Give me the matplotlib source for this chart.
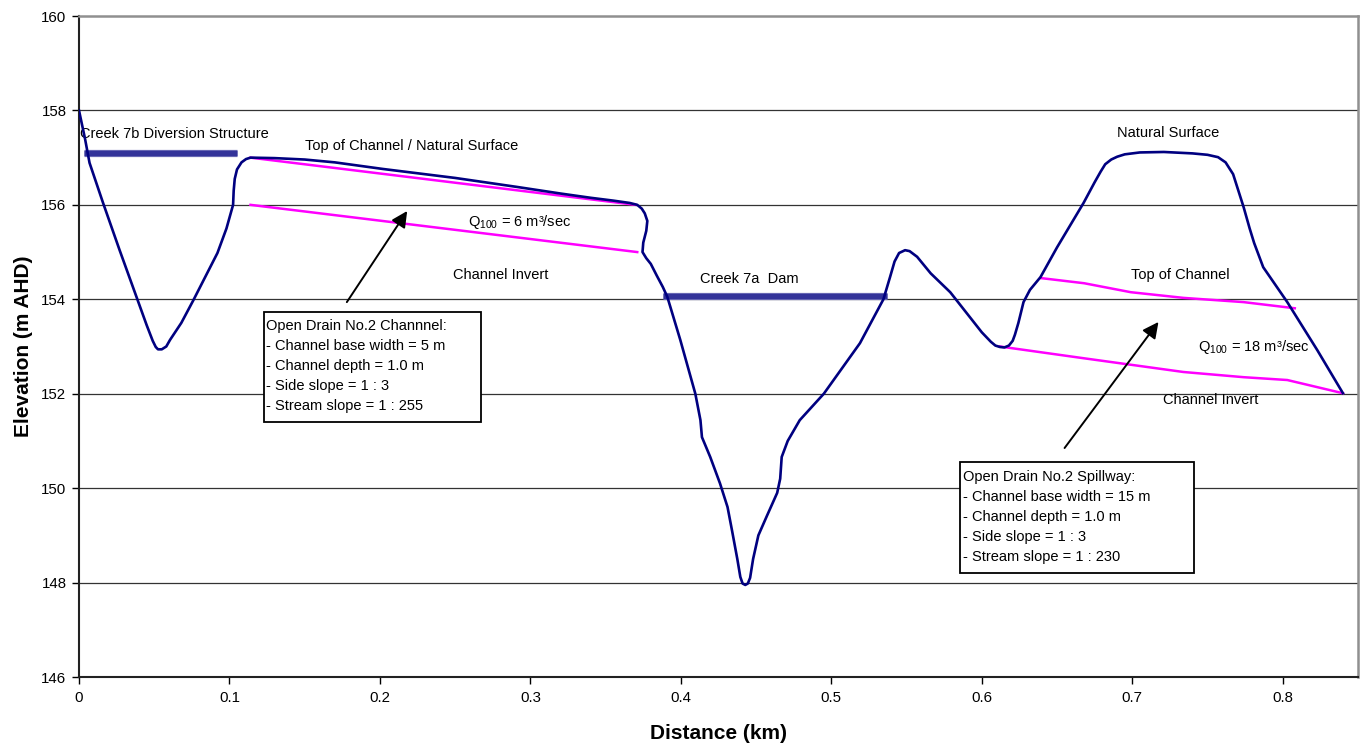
import matplotlib
matplotlib.use("Agg")
import matplotlib.pyplot as plt
from matplotlib.patches import Rectangle

plt.rcParams['font.family'] = ['Liberation Sans', 'DejaVu Sans']
plt.rcParams['mathtext.fontset'] = 'custom'
plt.rcParams['mathtext.rm'] = 'Liberation Sans'
plt.rcParams['mathtext.it'] = 'Liberation Sans'

# ---- data ----
surface_x = [0.000, 0.004, 0.007, 0.016, 0.027, 0.039, 0.045, 0.049, 0.051, 0.0525, 0.055, 0.058,
             0.0605, 0.068, 0.076, 0.092, 0.098, 0.1024, 0.1028, 0.1035, 0.105, 0.108, 0.111,
             0.114, 0.130, 0.150, 0.170, 0.202, 0.250, 0.291, 0.320, 0.340, 0.355, 0.366,
             0.371, 0.374, 0.376, 0.3777, 0.377, 0.375, 0.3745, 0.377, 0.380, 0.384, 0.388,
             0.391, 0.3996, 0.4096, 0.413, 0.414, 0.4195, 0.426, 0.431, 0.434, 0.4375, 0.4395,
             0.441, 0.4428, 0.4445, 0.446, 0.448, 0.4515, 0.457, 0.464, 0.466, 0.467, 0.471,
             0.479, 0.495, 0.519, 0.5346, 0.539, 0.542, 0.545, 0.549, 0.552, 0.557, 0.566,
             0.579, 0.600, 0.606, 0.609, 0.612, 0.615, 0.618, 0.6205, 0.622, 0.6243, 0.6277,
             0.632, 0.639, 0.650, 0.6676, 0.675, 0.6789, 0.682, 0.686, 0.690, 0.695, 0.705,
             0.721, 0.740, 0.750, 0.757, 0.762, 0.767, 0.774, 0.778, 0.781, 0.787, 0.803,
             0.823, 0.840]
surface_y = [158.0, 157.4, 156.89, 156.04, 155.04, 153.98, 153.45, 153.12, 152.99, 152.94,
             152.94, 153.0, 153.14, 153.5, 153.98, 154.98, 155.5, 156.0, 156.3, 156.55, 156.75,
             156.9, 156.97, 157.0, 156.99, 156.96, 156.9, 156.76, 156.57, 156.38, 156.24,
             156.15, 156.09, 156.04, 156.0, 155.92, 155.82, 155.66, 155.45, 155.2, 155.0,
             154.87, 154.75, 154.5, 154.26, 154.05, 153.14, 152.0, 151.44, 151.08, 150.66,
             150.1, 149.6, 149.1, 148.5, 148.12, 147.98, 147.95, 147.98, 148.1, 148.5, 149.0,
             149.4, 149.9, 150.2, 150.66, 151.0, 151.44, 152.0, 153.07, 154.0, 154.47, 154.8,
             154.98, 155.04, 155.02, 154.9, 154.55, 154.15, 153.3, 153.1, 153.02, 152.99, 152.98,
             153.02, 153.12, 153.25, 153.5, 153.94, 154.2, 154.47, 155.1, 156.04, 156.48,
             156.7, 156.86, 156.96, 157.02, 157.07, 157.11, 157.12, 157.09, 157.06, 157.01,
             156.9, 156.65, 155.95, 155.5, 155.19, 154.68, 153.94, 152.92, 152.01]

ch1_top_x = [0.114, 0.370]
ch1_top_y = [157.0, 156.0]
ch1_inv_x = [0.114, 0.371]
ch1_inv_y = [156.0, 155.0]

ch2_top_x = [0.639, 0.668, 0.699, 0.734, 0.774, 0.808]
ch2_top_y = [154.45, 154.34, 154.15, 154.03, 153.94, 153.81]
ch2_inv_x = [0.612, 0.668, 0.734, 0.774, 0.803, 0.840]
ch2_inv_y = [153.0, 152.75, 152.46, 152.35, 152.29, 152.01]

struct7b_x = [0.0033, 0.105]
struct7b_y = [157.1, 157.1]
dam7a_x = [0.388, 0.537]
dam7a_y = [154.07, 154.07]

x_ticks = [0, 0.1, 0.2, 0.3, 0.4, 0.5, 0.6, 0.7, 0.8]
x_labels = ['0', '0.1', '0.2', '0.3', '0.4', '0.5', '0.6', '0.7', '0.8']
y_ticks = [146, 148, 150, 152, 154, 156, 158, 160]

box1_lines = ["Open Drain No.2 Channnel:", "- Channel base width = 5 m",
              "- Channel depth = 1.0 m", "- Side slope = 1 : 3", "- Stream slope = 1 : 255"]
box2_lines = ["Open Drain No.2 Spillway:", "- Channel base width = 15 m",
              "- Channel depth = 1.0 m", "- Side slope = 1 : 3", "- Stream slope = 1 : 230"]

# ---- figure ----
fig = plt.figure(figsize=(13.69, 7.44), dpi=100)
ax = fig.add_axes([79/1369, 67/744, (1358-79)/1369, (677-16)/744])
ax.set_xlim(0, 0.85)
ax.set_ylim(146, 160)

for yv in y_ticks[1:-1]:
    ax.axhline(yv, color='#333333', lw=0.9, zorder=1)

navy = '#000080'
magenta = '#FF00FF'
bar_c = '#333399'

for bx, by in [(struct7b_x, struct7b_y), (dam7a_x, dam7a_y)]:
    ax.plot(bx, by, color='#6f6fb8', lw=5.2, solid_capstyle='butt', zorder=2)
    ax.plot(bx, by, color=bar_c, lw=3.8, solid_capstyle='butt', zorder=2)

ax.plot(ch1_top_x, ch1_top_y, color=magenta, lw=1.8, zorder=3)
ax.plot(ch1_inv_x, ch1_inv_y, color=magenta, lw=1.8, zorder=3)
ax.plot(ch2_top_x, ch2_top_y, color=magenta, lw=1.8, zorder=3)
ax.plot(ch2_inv_x, ch2_inv_y, color=magenta, lw=1.8, zorder=3)

ax.plot(surface_x, surface_y, color=navy, lw=1.9, zorder=4, solid_joinstyle='round')

# labels on chart
fs = 10.5
ax.text(0.0007, 157.5, "Creek 7b Diversion Structure", fontsize=fs, ha='left', va='center')
ax.text(0.150, 157.25, "Top of Channel / Natural Surface", fontsize=fs, ha='left', va='center')
ax.text(0.2586, 155.64, r"Q$_{100}$ = 6 m³/sec", fontsize=fs, ha='left', va='center')
ax.text(0.2487, 154.51, "Channel Invert", fontsize=fs, ha='left', va='center')
ax.text(0.413, 154.43, "Creek 7a  Dam", fontsize=fs, ha='left', va='center')
ax.text(0.690, 157.52, "Natural Surface", fontsize=fs, ha='left', va='center')
ax.text(0.699, 154.51, "Top of Channel", fontsize=fs, ha='left', va='center')
ax.text(0.7434, 152.99, r"Q$_{100}$ = 18 m³/sec", fontsize=fs, ha='left', va='center')
ax.text(0.7207, 151.86, "Channel Invert", fontsize=fs, ha='left', va='center')

arrow_kw = dict(arrowstyle='-|>', color='black', lw=1.4, mutation_scale=24,
                shrinkA=0, shrinkB=0)
ax.annotate("", xy=(0.2181, 155.87), xytext=(0.178, 153.94), arrowprops=arrow_kw, zorder=5)
ax.annotate("", xy=(0.7174, 153.52), xytext=(0.655, 150.85), arrowprops=arrow_kw, zorder=5)

def draw_box(x0, y_top, y_bot, x1, lines):
    ax.add_patch(Rectangle((x0, y_bot), x1 - x0, y_top - y_bot, facecolor='white',
                           edgecolor='black', lw=1.3, zorder=6))
    step = (y_top - y_bot) / 5.55
    for i, ln in enumerate(lines):
        ax.text(x0 + 0.0015, y_top - step * (0.72 + i), ln, fontsize=10.5,
                ha='left', va='center', zorder=7)

draw_box(0.123, 153.73, 151.40, 0.2673, box1_lines)
draw_box(0.5858, 150.55, 148.20, 0.7407, box2_lines)

ax.set_xticks(x_ticks)
ax.set_xticklabels(x_labels)
ax.set_yticks(y_ticks)
ax.tick_params(axis='both', direction='out', length=5, width=1, labelsize=10.8, colors='black')
ax.tick_params(axis='x', pad=5)
ax.tick_params(axis='y', pad=4)

for s in ['left', 'bottom']:
    ax.spines[s].set_color('#222222')
    ax.spines[s].set_linewidth(1.5)
for s in ['top', 'right']:
    ax.spines[s].set_color('#909090')
    ax.spines[s].set_linewidth(1.8)

ax.set_xlabel("Distance (km)", fontsize=15, fontweight='bold', labelpad=14)
ax.set_ylabel("Elevation (m AHD)", fontsize=15, fontweight='bold', labelpad=6)

fig.savefig("out.png", dpi=100)
